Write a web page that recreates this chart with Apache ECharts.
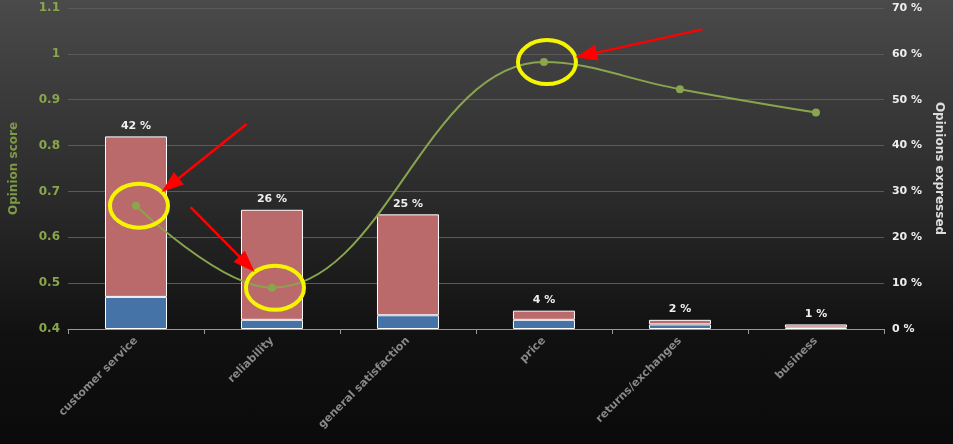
<!DOCTYPE html>
<html><head><meta charset="utf-8">
<script src="https://cdn.jsdelivr.net/npm/echarts@6/dist/echarts.min.js"></script>
<style>html,body{margin:0;padding:0}#c{width:953px;height:444px;background:linear-gradient(#4a4a4a,#2a2a2a 45%,#111 75%,#0a0a0a)}</style>
</head><body><div id="c"></div>
<script>
const categories = ['customer service', 'reliability', 'general satisfaction', 'price', 'returns/exchanges', 'business'];
const totalPct = [42, 26, 25, 4, 2, 1];
const bluePct = [7, 2, 3, 2, 1, 0.3];
const redPct = totalPct.map((t, i) => t - bluePct[i]);
const score = [0.669, 0.49, null, 0.982, 0.923, 0.872];
const circled = [0, 1, 3];

const chart = echarts.init(document.getElementById('c'));
const font = 'Verdana, "DejaVu Sans", sans-serif';
chart.setOption({
  backgroundColor: 'transparent',
  animation: false,
  grid: { left: 66, right: 65, top: 8, bottom: 115 },
  xAxis: {
    type: 'category', data: categories,
    axisLine: { lineStyle: { color: '#999' } },
    axisTick: { show: true, lineStyle: { color: '#999' } },
    axisLabel: { rotate: 45, color: '#888', fontWeight: 'bold', fontSize: 11, fontFamily: font, margin: 10 }
  },
  yAxis: [{
    type: 'value', min: 0.4, max: 1.1, interval: 0.1,
    name: 'Opinion score', nameLocation: 'middle', nameGap: 48, nameRotate: 90,
    nameTextStyle: { color: '#7f9a45', fontWeight: 'bold', fontSize: 12, fontFamily: font },
    axisLabel: { color: '#8aa64c', fontWeight: 'bold', fontSize: 12, fontFamily: font, formatter: v => +v.toFixed(1) },
    splitLine: { lineStyle: { color: '#5a5a5a' } },
    axisLine: { show: false }, axisTick: { show: false }
  }, {
    type: 'value', min: 0, max: 70, interval: 10,
    name: 'Opinions expressed', nameLocation: 'middle', nameGap: 46, nameRotate: -90,
    nameTextStyle: { color: '#ddd', fontWeight: 'bold', fontSize: 12, fontFamily: font },
    axisLabel: { color: '#eee', fontWeight: 'bold', fontSize: 11, fontFamily: font, formatter: '{value} %' },
    splitLine: { show: false }, axisLine: { show: false }, axisTick: { show: false }
  }],
  series: [{
    type: 'bar', stack: 'p', yAxisIndex: 1, data: bluePct, barWidth: 62,
    itemStyle: { color: '#4572a7', borderColor: '#fff', borderWidth: 1 }
  }, {
    type: 'bar', stack: 'p', yAxisIndex: 1, data: redPct, barWidth: 62,
    itemStyle: { color: '#bb6a6b', borderColor: '#fff', borderWidth: 1 },
    label: { show: true, position: 'top', color: '#eee', fontWeight: 'bold', fontSize: 11, fontFamily: font,
      formatter: p => totalPct[p.dataIndex] + ' %' }
  }, {
    type: 'line', yAxisIndex: 0, data: score, smooth: 0.4, connectNulls: true,
    symbol: 'circle', symbolSize: 8,
    lineStyle: { color: '#89a54e', width: 2 }, itemStyle: { color: '#89a54e' }
  }]
});

// annotations: yellow circles and red arrows around selected points
const g = [];
const arrowFrom = { 0: [85, -68], 1: [-64, -65], 3: [127, -28] };
circled.forEach(i => {
  const [x, y] = chart.convertToPixel({ xAxisIndex: 0, yAxisIndex: 0 }, [i, score[i]]);
  g.push({ type: 'ellipse', shape: { cx: x + 3, cy: y, rx: 29, ry: 22 }, style: { fill: 'none', stroke: '#f5f500', lineWidth: 4 }, z: 100 });
  const [dx, dy] = arrowFrom[i];
  const ang = Math.atan2(-dy, -dx);
  const tx = x + 3 - Math.cos(ang) * 29, ty = y - Math.sin(ang) * 22;
  const sx = tx + dx, sy = ty + dy;
  g.push({ type: 'line', shape: { x1: sx, y1: sy, x2: tx - Math.cos(ang) * 14, y2: ty - Math.sin(ang) * 14 }, style: { stroke: '#f00', lineWidth: 2.5 }, z: 101 });
  const L = 22, W = 8;
  const bx = tx - Math.cos(ang) * L, by = ty - Math.sin(ang) * L;
  const px = -Math.sin(ang) * W, py = Math.cos(ang) * W;
  g.push({ type: 'polygon', shape: { points: [[tx, ty], [bx + px, by + py], [bx - px, by - py]] }, style: { fill: '#f00' }, z: 101 });
});
chart.setOption({ graphic: g });
</script></body></html>
